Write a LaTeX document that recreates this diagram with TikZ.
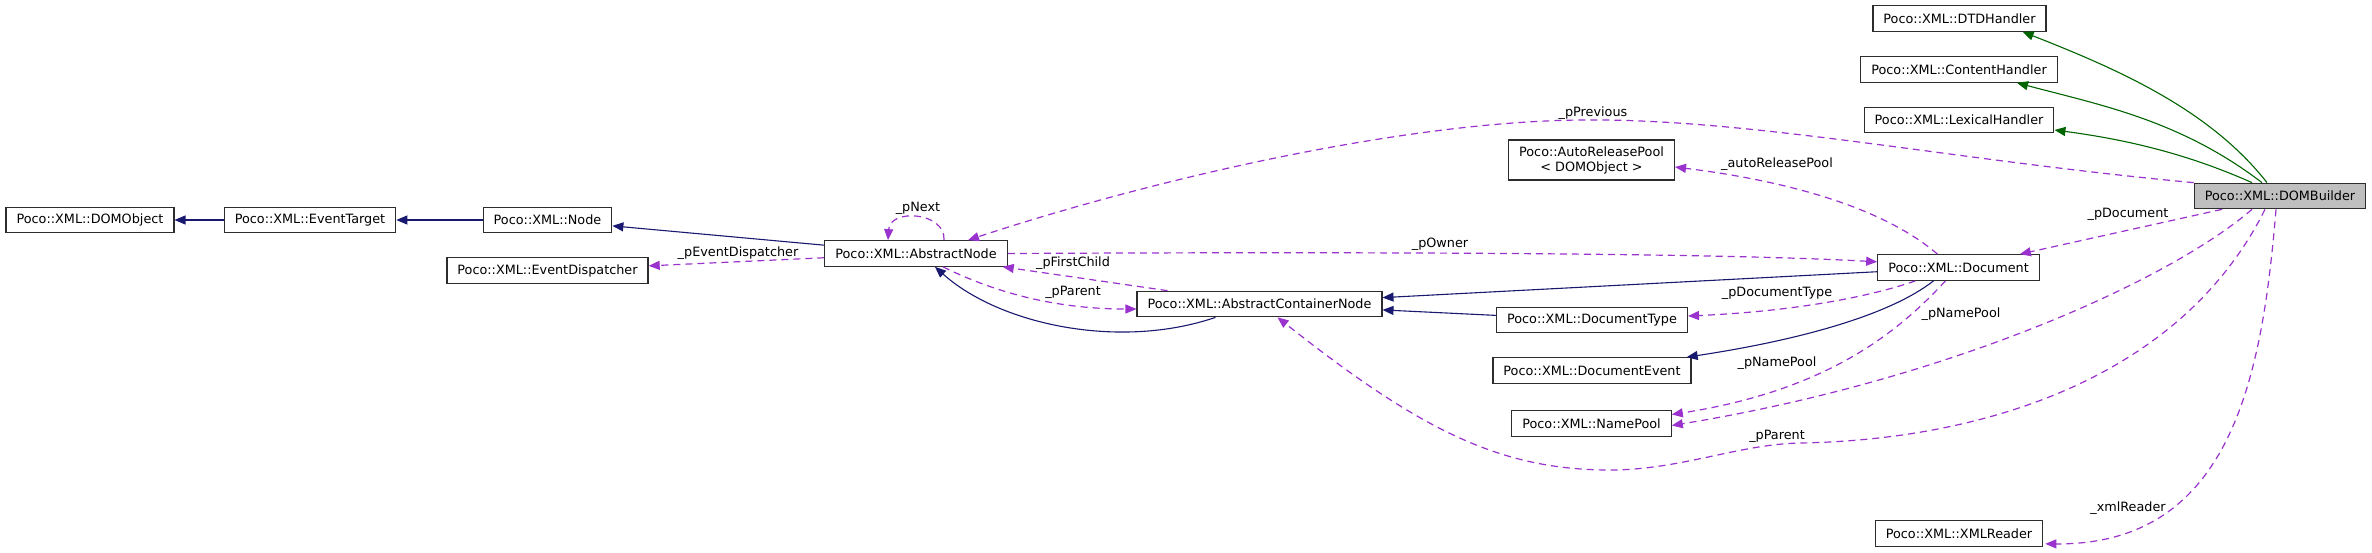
\documentclass[tikz,border=0pt]{standalone}
\usepackage{fontspec}
\setmainfont{DejaVu Sans}
\definecolor{EdgeNavy}{RGB}{25,25,112}
\definecolor{EdgeGreen}{RGB}{0,100,0}
\definecolor{EdgeOrchid}{RGB}{154,50,205}
\definecolor{BoxGray}{RGB}{191,191,191}
\definecolor{BoxLine}{RGB}{45,45,45}
\usepackage{tikz}
\usetikzlibrary{arrows.meta, calc}

\begin{document}
\begin{tikzpicture}[
  x=1pt, y=-1pt,
  every node/.style={font=\fontsize{12.8}{15}\selectfont},
  cls/.style={draw=BoxLine, fill=white, line width=1.2pt, inner xsep=10.5pt, inner ysep=0pt, minimum height=25.5pt},
  lbl/.style={inner sep=0pt},
  pub/.style={EdgeNavy, line width=1.1pt, -{Triangle[length=11pt,width=9pt]}},
  prot/.style={EdgeGreen, line width=1.1pt, -{Triangle[length=11pt,width=9pt]}},
  uses/.style={EdgeOrchid, line width=1.2pt, dash pattern=on 7pt off 5pt, -{Triangle[length=11pt,width=9pt]}}
]
\useasboundingbox[fill=white] (0,0) rectangle (2372,552);

\node[cls] (DOMObject) at (90,220) {Poco::XML::DOMObject};
\node[cls] (EventTarget) at (310,220) {Poco::XML::EventTarget};
\node[cls] (Node) at (547.5,220) {Poco::XML::Node};
\node[cls] (EventDispatcher) at (547.5,270.5) {Poco::XML::EventDispatcher};
\node[cls] (AbstractNode) at (916,253.5) {Poco::XML::AbstractNode};
\node[cls] (ContainerNode) at (1259.5,304) {Poco::XML::AbstractContainerNode};
\node[cls, align=center, minimum height=40pt] (ReleasePool) at (1591.5,160) {Poco::AutoReleasePool\\< DOMObject >};
\node[cls] (Document) at (1958.5,267.5) {Poco::XML::Document};
\node[cls] (DocumentType) at (1592,320) {Poco::XML::DocumentType};
\node[cls] (DocumentEvent) at (1592,370.5) {Poco::XML::DocumentEvent};
\node[cls] (NamePool) at (1591.5,423.5) {Poco::XML::NamePool};
\node[cls] (XMLReader) at (1959,533.5) {Poco::XML::XMLReader};
\node[cls] (DTDHandler) at (1959.5,18.5) {Poco::XML::DTDHandler};
\node[cls] (ContentHandler) at (1959,69.5) {Poco::XML::ContentHandler};
\node[cls] (LexicalHandler) at (1959,120) {Poco::XML::LexicalHandler};
\node[cls, fill=BoxGray] (DOMBuilder) at (2280,196) {Poco::XML::DOMBuilder};

\node[lbl] (lblNext) at (918,208) {\_pNext};
\node[lbl] (lblEventDispatcher) at (738,253) {\_pEventDispatcher};
\node[lbl] (lblPrevious) at (1593,113) {\_pPrevious};
\node[lbl] (lblOwner) at (1440,244) {\_pOwner};
\node[lbl] (lblFirstChild) at (1073,263) {\_pFirstChild};
\node[lbl] (lblParentA) at (1073,292) {\_pParent};
\node[lbl] (lblReleasePool) at (1777,164) {\_autoReleasePool};
\node[lbl] (lblDocument) at (2128,214) {\_pDocument};
\node[lbl] (lblDocumentType) at (1777,293) {\_pDocumentType};
\node[lbl] (lblNamePoolA) at (1961,314) {\_pNamePool};
\node[lbl] (lblNamePoolB) at (1777,363) {\_pNamePool};
\node[lbl] (lblParentB) at (1777,436) {\_pParent};
\node[lbl] (lblXMLReader) at (2128,508) {\_xmlReader};

\draw[pub] (EventTarget) -- (DOMObject);
\draw[pub] (Node) -- (EventTarget);
\draw[pub] (AbstractNode) -- (Node);
\draw[pub] ($(ContainerNode.south)+(-44,0)$) .. controls (1120,350) and (1000,325) .. ($(AbstractNode.south)+(19,0)$);
\draw[pub] (DocumentType) -- (ContainerNode);
\draw[pub] (Document) -- (ContainerNode);
\draw[pub] ($(Document.south)+(-25,0)$) .. controls (1890,315) and (1800,340) .. ($(DocumentEvent.north east)+(-5,0)$);
\draw[prot] ($(DOMBuilder.north)+(-13,0)$) .. controls (2210,110) and (2120,70) .. ($(DTDHandler.south east)+(-24,0)$);
\draw[prot] ($(DOMBuilder.north)+(-18,0)$) .. controls (2180,120) and (2100,105) .. ($(ContentHandler.south)+(58,0)$);
\draw[prot] ($(DOMBuilder.north)+(-28,0)$) .. controls (2190,155) and (2130,140) .. ($(LexicalHandler.east)+(0,10)$);

\draw[uses] (AbstractNode) -- (EventDispatcher);
\draw[uses] ($(AbstractNode.north)+(28,0)$) .. controls (946,212) and (890,208) .. ($(AbstractNode.north)+(-28,0)$);
\draw[uses] (DOMBuilder.north west) .. controls (1950,160) and (1750,118) .. (1580,120) .. controls (1400,122) and (1150,180) .. ($(AbstractNode.north)+(52,0)$);
\draw[uses] (AbstractNode.east) .. controls (1300,252) and (1700,252) .. (Document.176);
\draw[uses] ($(ContainerNode.north)+(-92,0)$) -- ($(AbstractNode.south east)+(-5,0)$);
\draw[uses] ($(AbstractNode.south)+(27,0)$) .. controls (990,290) and (1050,309) .. ($(ContainerNode.west)+(0,5)$);
\draw[uses] ($(Document.north)+(-21,0)$) .. controls (1880,205) and (1780,180) .. ($(ReleasePool.east)+(0,7)$);
\draw[uses] ($(DOMBuilder.south)+(-58,0)$) -- ($(Document.north east)+(-20,0)$);
\draw[uses] ($(Document.south)+(-43,0)$) .. controls (1860,300) and (1780,312) .. ($(DocumentType.east)+(0,-4)$);
\draw[uses] ($(Document.south)+(-13,0)$) .. controls (1900,330) and (1830,390) .. ($(NamePool.east)+(0,-9)$);
\draw[uses] ($(DOMBuilder.south)+(-28,0)$) .. controls (2170,280) and (1950,380) .. ($(NamePool.east)+(0,2)$);
\draw[uses] ($(DOMBuilder.south)+(-15,0)$) .. controls (2180,380) and (1980,440) .. (1800,443) .. controls (1740,444) and (1680,470) .. (1610,470) .. controls (1500,470) and (1420,430) .. ($(ContainerNode.south)+(18,0)$);
\draw[uses] ($(DOMBuilder.south)+(-4,0)$) .. controls (2262,380) and (2230,545) .. ($(XMLReader.south east)+(2,-3)$);
\end{tikzpicture}
\end{document}
